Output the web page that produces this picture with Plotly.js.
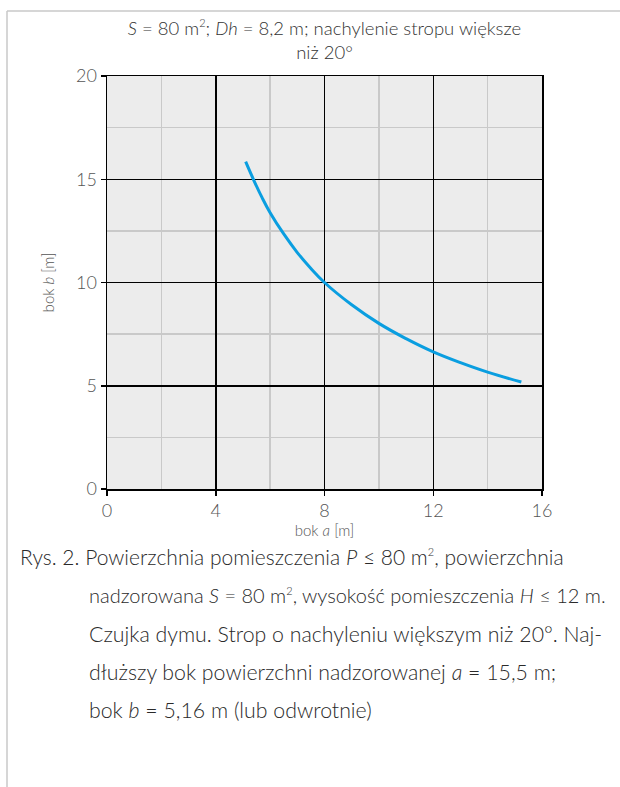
<!DOCTYPE html>
<html>
<head>
<meta charset="utf-8">
<script src="https://cdn.plot.ly/plotly-3.0.1.min.js"></script>
<style>
  html, body { margin: 0; padding: 0; background: #ffffff; }
  #chart { width: 620px; height: 787px; }
</style>
</head>
<body>
<div id="chart"></div>
<script>
// ---- data ----
const sideA = [5.10, 5.40, 5.70, 6.00, 6.50, 7.00, 7.50, 8.00, 9.00, 10.00, 11.00, 12.00, 13.00, 14.00, 15.24];
const sideB = [15.85, 14.95, 14.12, 13.38, 12.35, 11.45, 10.68, 10.00, 8.92, 8.02, 7.28, 6.64, 6.12, 5.66, 5.18];
const xTicks = [0, 4, 8, 12, 16];
const yTicks = [0, 5, 10, 15, 20];
const SQ = '<sup><span style="font-size:11px">2</span></sup>';
const chartTitle = '<i>S</i> = 80 m' + SQ + '; <i>Dh</i> = 8,2 m; nachylenie stropu większe<br>niż 20°';
const xTitle = 'bok <i>a</i> [m]';
const yTitle = 'bok <i>b</i> [m]';
const captionLines = [
  'Rys. 2. Powierzchnia pomieszczenia <i>P</i> ≤ 80 m' + SQ + ', powierzchnia',
  'nadzorowana <i>S</i> = 80 m' + SQ + ', wysokość pomieszczenia <i>H</i> ≤ 12 m.',
  'Czujka dymu. Strop o nachyleniu większym niż 20°. Naj-',
  'dłuższy bok powierzchni nadzorowanej <i>a</i> = 15,5 m;',
  'bok <i>b</i> = 5,16 m (lub odwrotnie)'
];

// ---- layout geometry ----
const W = 620, H = 787;
const M = { l: 107, r: 78, t: 76, b: 298 };
const PW = W - M.l - M.r, PH = H - M.t - M.b;
const px = x => (x - M.l) / PW;
const py = y => (H - M.b - y) / PH;
const FONT = 'Lato, "Open Sans", sans-serif';

const captionX = [18, 87, 87, 87, 87];
const captionY = [556, 595, 634, 672, 710];
const captionSize = [21, 20, 21.3, 21.3, 21.3];
const annotations = captionLines.map((t, i) => ({
  text: t, xref: 'paper', yref: 'paper',
  x: px(captionX[i]), y: py(captionY[i]),
  xanchor: 'left', yanchor: 'middle', showarrow: false,
  font: { family: FONT, size: captionSize[i], color: '#2a2a2a', weight: 300 }
}));

const trace = {
  x: sideA, y: sideB, type: 'scatter', mode: 'lines',
  line: { color: '#0a9ee0', width: 3, shape: 'spline', smoothing: 1.2 },
  hoverinfo: 'skip', showlegend: false
};

const axisCommon = {
  showline: true, linecolor: '#000000', linewidth: 1.5, mirror: true,
  showgrid: true, gridcolor: '#000000', gridwidth: 1.5,
  ticks: 'outside', ticklen: 5, tickwidth: 1.5, tickcolor: '#000000',
  zeroline: false, fixedrange: true,
  tickfont: { family: FONT, size: 18, color: '#555555', weight: 300 }
};

const layout = {
  width: W, height: H,
  margin: M,
  paper_bgcolor: '#ffffff', plot_bgcolor: '#ececec',
  font: { family: FONT, color: '#444444' },
  title: {
    text: chartTitle, xref: 'paper', x: 0.5, xanchor: 'center',
    yref: 'container', y: 1 - 35 / H, yanchor: 'middle',
    font: { family: FONT, size: 18.5, color: '#333333', weight: 300 }
  },
  xaxis: Object.assign({}, axisCommon, {
    range: [0, 16], tickvals: xTicks, ticktext: xTicks.map(String),
    minor: { dtick: 2, tick0: 0, showgrid: true, gridcolor: '#c9c9c9', gridwidth: 1.5, ticks: '' },
    title: { text: xTitle, standoff: 1, font: { family: FONT, size: 15, color: '#555555', weight: 300 } }
  }),
  yaxis: Object.assign({}, axisCommon, {
    range: [0, 20], tickvals: yTicks, ticktext: yTicks.map(String),
    minor: { dtick: 2.5, tick0: 0, showgrid: true, gridcolor: '#c9c9c9', gridwidth: 1.5, ticks: '' },
    title: { text: yTitle, standoff: 18, font: { family: FONT, size: 15, color: '#555555', weight: 300 } }
  }),
  shapes: [
    { type: 'line', xref: 'paper', yref: 'paper', x0: px(7), x1: px(620), y0: py(11), y1: py(11),
      line: { color: '#c8c8c8', width: 1.5 } },
    { type: 'line', xref: 'paper', yref: 'paper', x0: px(7), x1: px(7), y0: py(11), y1: py(787),
      line: { color: '#c8c8c8', width: 1.5 } }
  ],
  annotations: annotations
};

Plotly.newPlot('chart', [trace], layout, { staticPlot: true, displayModeBar: false });
</script>
</body>
</html>
